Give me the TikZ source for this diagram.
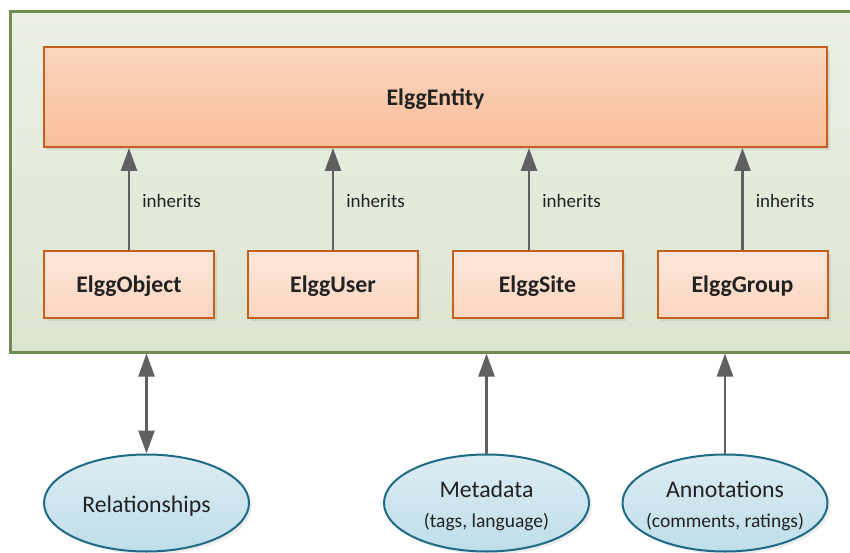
\documentclass[tikz,border=0pt]{standalone}
\usepackage{fontspec}
\setmainfont{Carlito}
\usepackage{tikz}
\usetikzlibrary{arrows.meta,shapes.geometric,shadows}

\definecolor{frameline}{HTML}{718C4F}
\definecolor{frametop}{HTML}{EBEFE6}
\definecolor{framebot}{HTML}{DCE5D0}
\definecolor{boxline}{HTML}{C4601D}
\definecolor{entitytop}{HTML}{FBD6BF}
\definecolor{entitybot}{HTML}{F8BD99}
\definecolor{classtop}{HTML}{FDE7DA}
\definecolor{classbot}{HTML}{FBD5BF}
\definecolor{blobline}{HTML}{1F6A84}
\definecolor{blobtop}{HTML}{DDECF3}
\definecolor{blobbot}{HTML}{BEDEEA}
\definecolor{arrowgray}{HTML}{606060}
\definecolor{ink}{HTML}{222222}

\newcommand{\subnote}[1]{{\fontsize{19.5}{22}\selectfont #1}}

\begin{document}
\begin{tikzpicture}[x=1pt,y=-1pt,
    frame/.style={draw=frameline,line width=3pt,top color=frametop,bottom color=framebot,
      minimum width=860pt,minimum height=340pt,inner sep=0pt},
    entity/.style={draw=boxline,line width=2pt,top color=entitytop,bottom color=entitybot,
      minimum width=783pt,minimum height=100pt,inner sep=0pt,text=ink,text depth=0pt,
      font=\fontsize{23.8}{27}\selectfont\bfseries,
      drop shadow={opacity=0.18,shadow xshift=3pt,shadow yshift=-3pt}},
    class/.style={draw=boxline,line width=2pt,top color=classtop,bottom color=classbot,
      minimum width=170pt,minimum height=67pt,inner sep=0pt,text=ink,text depth=0pt,
      font=\fontsize{23.8}{27}\selectfont\bfseries,
      drop shadow={opacity=0.18,shadow xshift=3pt,shadow yshift=-3pt}},
    blob/.style={ellipse,draw=blobline,line width=2pt,top color=blobtop,bottom color=blobbot,
      minimum width=205pt,minimum height=97pt,inner sep=0pt,
      drop shadow={opacity=0.15,shadow xshift=3pt,shadow yshift=-3pt}},
    blobtext/.style={inner sep=0pt,text=ink,align=center,yshift=-3pt,
      font=\fontsize{23.8}{30}\selectfont},
    inh/.style={draw=arrowgray,line width=2.6pt,-{Triangle[length=23pt,width=16pt]}},
    lbl/.style={anchor=west,inner sep=0pt,xshift=12pt,yshift=-2pt,text=ink,font=\fontsize{19}{22}\selectfont}]
  \useasboundingbox (0,0) rectangle (850,553);

  \node[frame] (frame) at (440,182) {};
  \node[entity] (entity) at (435.5,97) {ElggEntity};

  \node[class] (object) at (129,284.5) {ElggObject};
  \node[class] (user) at (333,284.5) {ElggUser};
  \node[class] (site) at (537.5,284.5) {ElggSite};
  \node[class] (group) at (742.5,284.5) {ElggGroup};

  \draw[inh] (object.north) -- (object.north |- entity.south) node[lbl,midway] {inherits};
  \draw[inh] (user.north) -- (user.north |- entity.south) node[lbl,midway] {inherits};
  \draw[inh] ([xshift=-8.5pt]site.north) -- ([xshift=-8.5pt]site.north |- entity.south) node[lbl,midway] {inherits};
  \draw[inh] (group.north) -- (group.north |- entity.south) node[lbl,midway] {inherits};

  \node[blob] (rel) at (146.5,503) {};
  \node[blob] (meta) at (486.5,503) {};
  \node[blob] (annot) at (725,503) {};
  \node[blobtext] at (rel) {Relationships};
  \node[blobtext] at (meta) {Metadata\\\subnote{(tags, language)}};
  \node[blobtext] at (annot) {Annotations\\\subnote{(comments, ratings)}};

  \draw[inh,{Triangle[length=23pt,width=16pt]}-{Triangle[length=23pt,width=16pt]}] (rel.north) -- (rel.north |- frame.south);
  \draw[inh] (meta.north) -- (meta.north |- frame.south);
  \draw[inh] (annot.north) -- (annot.north |- frame.south);
\end{tikzpicture}
\end{document}
